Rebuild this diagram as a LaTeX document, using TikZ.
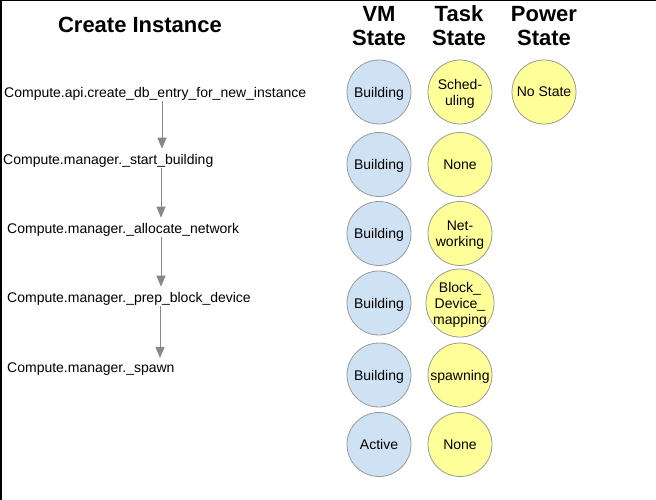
\documentclass[tikz,border=0pt]{standalone}
\usepackage{fontspec}
\setmainfont{Liberation Sans}
\usetikzlibrary{arrows.meta}
\definecolor{vmblue}{HTML}{CFE2F3}
\definecolor{taskyellow}{HTML}{FFFF99}
\definecolor{ringgray}{HTML}{999999}
\definecolor{flowgray}{HTML}{888888}
\tikzset{
  heading/.style={font=\bfseries\fontsize{22}{24}\selectfont, align=center, inner sep=0pt},
  callname/.style={font=\fontsize{14}{16}\selectfont, anchor=west, inner sep=0pt, text depth=0pt},
  statedot/.style={circle, draw=ringgray, line width=0.8pt, minimum size=64pt, inner sep=0pt,
    font=\fontsize{14}{16}\selectfont, align=center, text depth=0pt},
  vmdot/.style={statedot, fill=vmblue},
  taskdot/.style={statedot, fill=taskyellow},
  flow/.style={draw=flowgray, line width=1pt, -{Triangle[width=9pt,length=11pt]},
    shorten <=4pt, shorten >=5pt}
}
\begin{document}
\begin{tikzpicture}[x=1pt, y=-1pt]
  \useasboundingbox (0,0) rectangle (656,500);
  % frame edges along the top and left
  \draw[line width=1.5pt] (0,0.75) -- (656,0.75);
  \draw[line width=1.5pt] (0.75,0) -- (0.75,500);

  % column headings
  \node[heading] (title) at (140,25) {Create Instance};
  \node[heading] (vmhead) at (379,26) {VM\\State};
  \node[heading] (taskhead) at (459,26) {Task\\State};
  \node[heading] (powerhead) at (544,26) {Power\\State};

  % call sequence
  \node[callname] (c1) at (4,92) {Compute.api.create\_db\_entry\_for\_new\_instance};
  \node[callname] (c2) at (3,159) {Compute.manager.\_start\_building};
  \node[callname] (c3) at (7,228) {Compute.manager.\_allocate\_network};
  \node[callname] (c4) at (7,297) {Compute.manager.\_prep\_block\_device};
  \node[callname] (c5) at (7,368) {Compute.manager.\_spawn};

  \coordinate (x1) at (162,0);
  \coordinate (x2) at (161,0);
  \coordinate (x3) at (161,0);
  \coordinate (x4) at (160,0);
  \draw[flow] (c1.south -| x1) -- (c2.north -| x1);
  \draw[flow] (c2.south -| x2) -- (c3.north -| x2);
  \draw[flow] (c3.south -| x3) -- (c4.north -| x3);
  \draw[flow] (c4.south -| x4) -- (c5.north -| x4);

  % VM state column
  \node[vmdot] (vm1) at (379,92) {Building};
  \node[vmdot] (vm2) at (379,164.5) {Building};
  \node[vmdot] (vm3) at (379,233.5) {Building};
  \node[vmdot] (vm4) at (379,303) {Building};
  \node[vmdot] (vm5) at (379,375) {Building};
  \node[vmdot] (vm6) at (379,444.5) {Active};

  % task state column
  \node[taskdot] (ts1) at (460,92) {Sched-\\uling};
  \node[taskdot] (ts2) at (460,164.5) {None};
  \node[taskdot] (ts3) at (460,233.5) {Net-\\working};
  \node[taskdot] (ts4) at (460,303) {Block\_\\Device\_\\mapping};
  \node[taskdot] (ts5) at (460,375) {spawning};
  \node[taskdot] (ts6) at (460,444.5) {None};

  % power state column
  \node[taskdot] (ps1) at (544,92) {No State};
\end{tikzpicture}
\end{document}
